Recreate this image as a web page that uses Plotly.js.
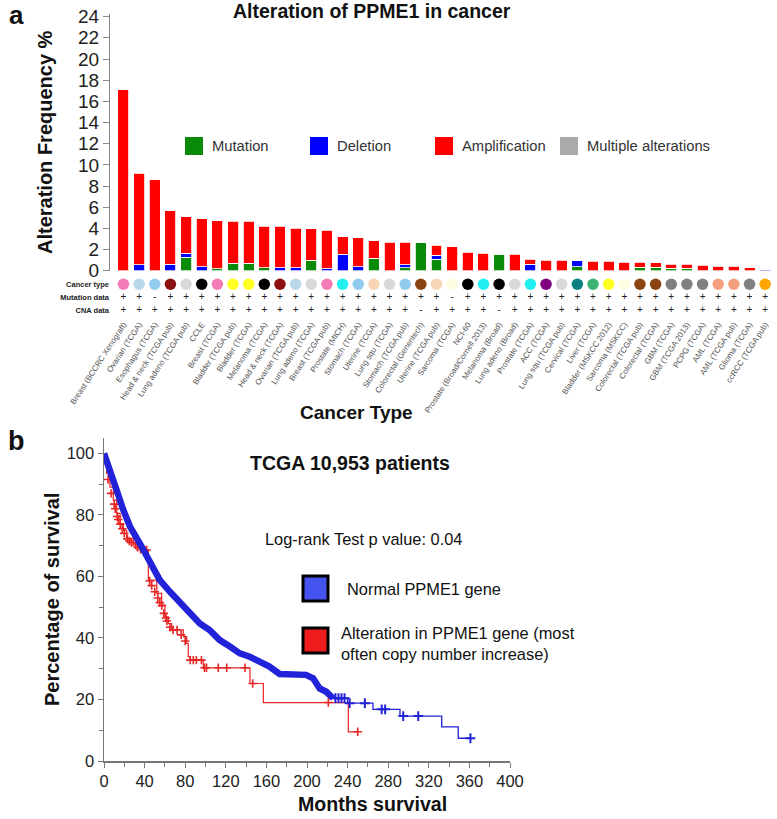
<!DOCTYPE html>
<html><head><meta charset="utf-8">
<script src="https://cdn.plot.ly/plotly-3.0.1.min.js"></script>
<style>html,body{margin:0;padding:0;background:#fff}#chart{width:777px;height:819px}</style>
</head><body><div id="chart"></div>
<script>
// ---------- Panel a data ----------
const categories = ["Breast (BCCRC Xenograft)","Ovarian (TCGA)","Esophagus (TCGA)","Head & neck (TCGA pub)","Lung adeno (TCGA pub)","CCLE","Breast (TCGA)","Bladder (TCGA pub)","Bladder (TCGA)","Melanoma (TCGA)","Head & neck (TCGA)","Ovarian (TCGA pub)","Lung adeno (TCGA)","Breast (TCGA pub)","Prostate (MICH)","Stomach (TCGA)","Uterine (TCGA)","Lung squ (TCGA)","Stomach (TCGA pub)","Colorectal (Genentech)","Uterine (TCGA pub)","Sarcoma (TCGA)","NCI-60","Prostate (Broad/Cornell 2013)","Melanoma (Broad)","Lung adeno (Broad)","Prostate (TCGA)","ACC (TCGA)","Lung squ (TCGA pub)","Cervical (TCGA)","Liver (TCGA)","Bladder (MSKCC 2012)","Sarcoma (MSKCC)","Colorectal (TCGA pub)","Colorectal (TCGA)","GBM (TCGA)","GBM (TCGA 2013)","PCPG (TCGA)","AML (TCGA)","AML (TCGA pub)","Glioma (TCGA)","ccRCC (TCGA pub)"];
const mutation      = [0,0,0,0,1.25,0,0.2,0.7,0.7,0.3,0,0,1.0,0,0,0,1.16,0,0.28,2.65,1.07,0,0,0,1.54,0,0,0,0,0.38,0,0,0,0.35,0.35,0.25,0.25,0,0,0,0,0];
const deletion      = [0,0.55,0,0.6,0.4,0.38,0,0,0,0,0.3,0.28,0,0.2,1.57,0.38,0,0,0.28,0,0.4,0,0,0,0,0,0.63,0,0,0.56,0,0,0,0,0,0,0,0,0,0,0,0.16];
const amplification = [17.1,8.68,8.6,5.07,3.45,4.53,4.5,3.96,3.96,3.92,3.92,3.75,2.97,3.64,1.64,2.71,1.67,2.71,2.15,0,0.92,2.24,1.76,1.67,0,1.54,0.44,1.0,1.0,0,0.88,0.88,0.82,0.47,0.41,0.38,0.38,0.5,0.44,0.44,0.28,0];
const typeColors = ["#f27bb8","#b9d9ea","#92cbf0","#8b1010","#d9d9d9","#000000","#f27bb8","#ffff22","#ffff22","#000000","#8b1010","#b9d9ea","#d9d9d9","#f27bb8","#22f0f0","#92cbf0","#f8d5b5","#d9d9d9","#92cbf0","#8b4513","#f8d5b5","#fdfde0","#000000","#22f0f0","#000000","#d9d9d9","#22f0f0","#800080","#d9d9d9","#0e8080","#3cb371","#ffff22","#fdfde0","#8b4513","#8b4513","#808080","#808080","#808080","#f4a07f","#f4a07f","#808080","#ffa500"];
const mutationData = ["+","+","-","+","+","+","+","+","+","+","+","+","+","+","+","+","+","+","+","+","+","-","+","+","+","+","+","+","+","+","+","+","+","+","+","+","+","+","+","+","+","+"];
const cnaData      = ["+","+","+","+","+","+","+","+","+","+","+","+","+","+","+","+","+","+","+","-","+","+","+","+","-","+","+","+","+","+","+","+","+","+","+","+","+","+","+","+","+","+"];
const rowLabels = ["Cancer type","Mutation data","CNA data"];
const freqTicks = [0,2,4,6,8,10,12,14,16,18,20,22,24];

// ---------- Panel b data ----------
const blueBandMonths = [0,6,12.5,19,25.6,35.4,42,48.5,55,65,74.8,84.6,94.4,104,114,124,133.8,143.6,153.4,163,173,186,199,206,212.5,219,225.6];
const blueBandPct    = [100,93.5,88,81.6,76.2,70.7,66.4,62,58.8,55,51.8,48.5,44.7,42.6,39.3,37.2,35,33.9,32.3,30.7,28.3,28.3,28,26.9,23.6,22.5,20.4];
const blueTailMonths = [225.6,240,265,291.6,332.7,349,361];
const blueTailPct    = [20.4,18.8,16.8,14.6,11.1,7.4,7.4];
const blueCensMonths = [228,231,234,237,242,257,273.6,277,294.8,309.6,361];
const blueCensPct    = [20.4,20.4,20.4,20.4,18.8,18.8,16.8,16.8,14.6,14.6,7.4];
const redMonths = [0,2.6,5.9,9.2,12.5,15.8,19,22.3,28.9,37,43.7,52,56.8,60,63.4,66.7,78.1,81.5,83,84.7,97.8,143.8,157,240.7,250];
const redPct    = [97.8,93.5,89,84.8,80.5,77.2,75,72.4,70.7,68.6,58.8,54.5,50.7,46.9,44.7,42.6,40.4,38.2,33.9,32.8,30.3,25.2,19,9.5,9.5];
const redCensMonths = [4,7,10,11,13,14,16,18,20,23,25,27,31,33,36,40,42,45,47,50,53,55,57,59,61,62,65,68,72,76,80,85,88,91,96,99,101,112.6,120.9,138.9,146.5,221,250];
const redCensPct    = [91.5,87,83.5,82,79.5,78.5,77,75.5,74,72.2,71.5,71,70.2,69.5,68.8,68.6,68.6,58.5,57,55,53,51.5,50.5,48,46.5,45.5,43.5,42.6,42.6,41,39,32.8,32.8,32.8,32.8,30.3,30.3,30.3,30.3,30.3,25.2,19,9.5];
const monthTicks = [0,40,80,120,160,200,240,280,320,360,400];
const pctTicks = [0,20,40,60,80,100];

// ---------- helpers (pixel -> paper) ----------
const W = 777, H = 819;
const PX = x => x / W;
const PY = y => 1 - y / H;
const FONT = 'Liberation Sans, Arial, Helvetica, sans-serif';

const traces = [
  {type:'bar', x:categories, y:mutation, name:'Mutation', marker:{color:'#098a09', line:{color:'#fff', width:0.8}}, xaxis:'x', yaxis:'y', showlegend:false, hoverinfo:'skip'},
  {type:'bar', x:categories, y:deletion, name:'Deletion', marker:{color:'#0000ff', line:{color:'#fff', width:0.8}}, xaxis:'x', yaxis:'y', showlegend:false, hoverinfo:'skip'},
  {type:'bar', x:categories, y:amplification, name:'Amplification', marker:{color:'#ff0000', line:{color:'#fff', width:0.8}}, xaxis:'x', yaxis:'y', showlegend:false, hoverinfo:'skip'},
  {type:'scatter', mode:'markers', x:categories, y:categories.map(() => 0), marker:{size:11.5, color:typeColors}, xaxis:'x', yaxis:'y2', showlegend:false, hoverinfo:'skip'},
  {type:'scatter', mode:'text', x:categories, y:categories.map(() => 1), text:mutationData, textfont:{size:10, color:'#222', family:FONT}, xaxis:'x', yaxis:'y2', showlegend:false, hoverinfo:'skip'},
  {type:'scatter', mode:'text', x:categories, y:categories.map(() => 2), text:cnaData, textfont:{size:10, color:'#222', family:FONT}, xaxis:'x', yaxis:'y2', showlegend:false, hoverinfo:'skip'},
  // panel b
  {type:'scatter', mode:'lines', x:redMonths, y:redPct, line:{color:'#e82424', width:1.2, shape:'hv'}, xaxis:'x2', yaxis:'y3', showlegend:false, hoverinfo:'skip'},
  {type:'scatter', mode:'markers', x:redCensMonths, y:redCensPct, marker:{symbol:'cross-thin', size:6, line:{color:'#e82424', width:1.6}}, xaxis:'x2', yaxis:'y3', showlegend:false, hoverinfo:'skip'},
  {type:'scatter', mode:'lines', x:blueTailMonths, y:blueTailPct, line:{color:'#2222d8', width:1.3, shape:'hv'}, xaxis:'x2', yaxis:'y3', showlegend:false, hoverinfo:'skip'},
  {type:'scatter', mode:'markers', x:blueCensMonths, y:blueCensPct, marker:{symbol:'cross-thin', size:7, line:{color:'#2222d8', width:2}}, xaxis:'x2', yaxis:'y3', showlegend:false, hoverinfo:'skip'},
  {type:'scatter', mode:'lines', x:blueBandMonths, y:blueBandPct, line:{color:'#2222d8', width:6.5}, xaxis:'x2', yaxis:'y3', showlegend:false, hoverinfo:'skip'}
];

const legA = [
  {c:'#098a09', x:185, t:'Mutation'},
  {c:'#0000ff', x:310, t:'Deletion'},
  {c:'#ff0000', x:435, t:'Amplification'},
  {c:'#aaaaaa', x:560, t:'Multiple alterations'}
];
const shapes = [];
const annotations = [];
legA.forEach(l => {
  shapes.push({type:'rect', xref:'paper', yref:'paper', x0:PX(l.x), x1:PX(l.x+18), y0:PY(155), y1:PY(137), fillcolor:l.c, line:{width:0}});
  annotations.push({text:l.t, xref:'paper', yref:'paper', x:PX(l.x+25), y:PY(146), xanchor:'left', yanchor:'middle', showarrow:false, font:{size:14.75, color:'#333', family:FONT}});
});
// panel b legend
shapes.push({type:'rect', xref:'paper', yref:'paper', x0:PX(303), x1:PX(328), y0:PY(601), y1:PY(576), fillcolor:'#4452ee', line:{color:'#000', width:3}});
shapes.push({type:'rect', xref:'paper', yref:'paper', x0:PX(303), x1:PX(328), y0:PY(653), y1:PY(628), fillcolor:'#ee1c1c', line:{color:'#000', width:3}});

function A(text, x, y, size, opts) {
  annotations.push(Object.assign({text:text, xref:'paper', yref:'paper', x:PX(x), y:PY(y), xanchor:'center', yanchor:'middle', showarrow:false, font:{size:size, color:'#111', family:FONT}}, opts || {}));
}
A('<b>a</b>', 16, 15, 26);
A('<b>b</b>', 16, 441, 27);
A('<b>Alteration of PPME1 in cancer</b>', 372, 11, 19.5);
A('<b>Alteration Frequency %</b>', 45, 142, 20, {textangle:-90});
A('<b>Cancer Type</b>', 356, 412, 19);
A('<b>TCGA 10,953 patients</b>', 350, 463, 19.5);
A('Log-rank Test p value: 0.04', 363, 539, 16.4);
A('Normal PPME1 gene', 345, 589, 16.4, {xanchor:'left'});
A('Alteration in PPME1 gene (most<br>often copy number increase)', 339, 643, 16.4, {xanchor:'left', align:'left'});
A('<b>Percentage of survival</b>', 52, 600, 20, {textangle:-90});
A('<b>Months survival</b>', 372, 804, 19.6);

const layout = {
  width: W, height: H,
  margin:{l:0, r:0, t:0, b:0},
  paper_bgcolor:'#fff', plot_bgcolor:'rgba(0,0,0,0)',
  font:{family:FONT, color:'#111'},
  barmode:'stack', bargap:0.3,
  showlegend:false,
  xaxis:{type:'category', categoryorder:'array', categoryarray:categories, range:[-0.86, 41.5], domain:[PX(110), PX(773)], anchor:'y2',
         showline:false, ticks:'', tickangle:-57, tickfont:{size:8, color:'#555', family:FONT}, showgrid:false, zeroline:false, fixedrange:true},
  yaxis:{domain:[PY(270.7), PY(13.5)], range:[0, 24.3], anchor:'x', tickvals:freqTicks, ticks:'outside', ticklen:6, tickcolor:'#888',
         showline:true, linecolor:'#888', linewidth:1, tickfont:{size:19, color:'#222', family:FONT}, showgrid:false, zeroline:false},
  yaxis2:{domain:[PY(317.3), PY(277.7)], range:[2.5, -0.5], anchor:'x', tickvals:[0,1,2], ticktext:rowLabels, ticks:'',
          tickfont:{size:7.5, color:'#222', family:FONT, weight:'bold'}, showline:false, showgrid:false, zeroline:false},
  xaxis2:{domain:[PX(104), PX(510)], range:[0, 400], anchor:'y3', tickvals:monthTicks, ticks:'outside', ticklen:5, tickcolor:'#777',
          showline:true, linecolor:'#777', linewidth:1.5, tickfont:{size:16.5, color:'#222', family:FONT}, showgrid:false, zeroline:false,
          minor:{dtick:20, tick0:0, ticks:'outside', ticklen:4, tickcolor:'#777', showgrid:false}},
  yaxis3:{domain:[PY(761), PY(438)], range:[0, 105], anchor:'x2', tickvals:pctTicks, ticks:'outside', ticklen:5, tickcolor:'#777',
          showline:true, linecolor:'#777', linewidth:1.5, tickfont:{size:16.5, color:'#222', family:FONT}, showgrid:false, zeroline:false,
          minor:{dtick:10, tick0:0, ticks:'outside', ticklen:4, tickcolor:'#777', showgrid:false}},
  shapes:shapes,
  annotations:annotations
};
Plotly.newPlot('chart', traces, layout, {staticPlot:true, displayModeBar:false});
</script>
</body></html>
